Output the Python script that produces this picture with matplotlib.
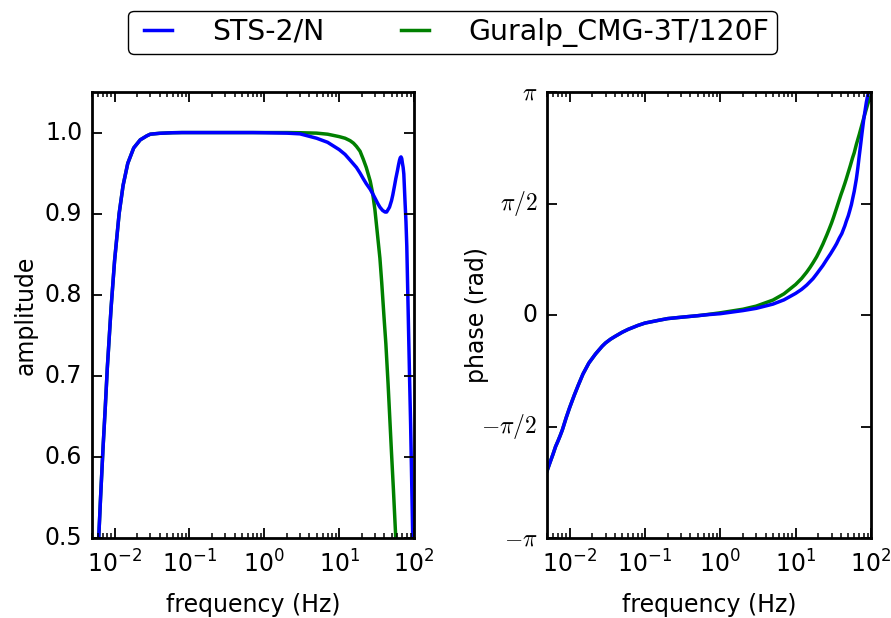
import numpy as np
import matplotlib
matplotlib.use('Agg')
import matplotlib.pyplot as plt

# values
freq_sts2 = [0.005, 0.0055, 0.006, 0.0065, 0.007, 0.0075, 0.008, 0.009, 0.010,
             0.0115, 0.013, 0.015, 0.018, 0.022, 0.027, 0.03, 0.035, 0.04,
             0.05, 0.06, 0.07, 0.08, 0.1, 0.15, 0.2, 0.3, 0.5, 0.7,
             1.0, 2.0, 3.0, 5.0, 7.0, 10, 12, 14, 17, 19, 21, 23, 26, 29, 33,
             35, 38, 41, 43, 45, 47, 50, 52, 55, 57, 60, 62, 64, 65.5, 67,
             68.5, 70, 71.5, 73, 76, 78, 80, 83, 87, 90, 93, 96, 100]
amp_sts2 = [0.34, 0.41, 0.48, 0.55, 0.61, 0.66, 0.71, 0.785, 0.842,
            0.900, 0.935, 0.962, 0.981, 0.991, 0.996, 0.998, 0.9986, 0.9991,
            0.9995, 0.9998, 0.9999, 1.0, 1.0, 1.0, 1.0, 1.0, 1.0, 1.0,
            0.9998, 0.9993, 0.9984, 0.993, 0.988, 0.979, 0.973, 0.966, 0.957,
            0.950, 0.943, 0.937, 0.930, 0.922, 0.912, 0.908, 0.904, 0.902,
            0.902, 0.905, 0.908, 0.916, 0.923, 0.935, 0.943, 0.953, 0.960,
            0.966, 0.969, 0.970, 0.968, 0.962, 0.957, 0.949, 0.912, 0.89, 0.86,
            0.79, 0.70, 0.64, 0.57, 0.50, 0.42]
phase_sts2 = [-0.70, -0.66, -0.625, -0.59, -0.565, -0.54, -0.515, -0.46, -0.415,
              -0.36, -0.315, -0.265, -0.215, -0.175, -0.14, -0.125, -0.108,
              -0.096, -0.077, -0.064, -0.055, -0.047, -0.036, -0.024, -0.016,
              -0.010, -0.003, 0.002,
              0.006, 0.020, 0.030, 0.049, 0.068, 0.097, 0.115, 0.134, 0.163,
              0.184, 0.204, 0.222, 0.250, 0.274, 0.305, 0.32, 0.345, 0.365,
              0.383, 0.400, 0.42, 0.445, 0.465, 0.495, 0.52, 0.555, 0.583,
              0.61, 0.635, 0.66, 0.688, 0.715, 0.74, 0.765, 0.815, 0.845,
              0.875, 0.91, 0.955, 0.98, 1.0, 1.03, 1.05]  # in units of pi

freq_cmg = [0.005, 0.0055, 0.006, 0.0065, 0.007, 0.0075, 0.008, 0.009, 0.010,
            0.0115, 0.013, 0.015, 0.018, 0.022, 0.027, 0.03, 0.035, 0.04,
            0.05, 0.06, 0.07, 0.08, 0.1, 0.15, 0.2, 0.3, 0.5, 0.7,
            1.0, 2.0, 3.0, 5.0, 7.0, 10, 12, 14, 15.5, 17, 19, 21, 23, 26, 28,
            30, 32, 35, 37, 40, 42, 45, 47, 50, 53, 57, 60, 64, 70, 74, 78, 82,
            87, 91, 95, 100]
amp_cmg = [0.34, 0.41, 0.48, 0.55, 0.61, 0.66, 0.71, 0.785, 0.842,
           0.900, 0.935, 0.962, 0.981, 0.991, 0.996, 0.998, 0.9986, 0.9991,
           0.9995, 0.9998, 0.9999, 1.0, 1.0, 1.0, 1.0, 1.0, 1.0, 1.0,
           1.0, 1.0, 0.9998, 0.9993, 0.998, 0.995, 0.993, 0.990, 0.987, 0.983,
           0.977, 0.967, 0.957, 0.940, 0.925, 0.905, 0.880, 0.845, 0.815,
           0.768, 0.74, 0.69, 0.655, 0.605, 0.56, 0.50, 0.455, 0.40, 0.33,
           0.29, 0.26, 0.23, 0.20, 0.18, 0.16, 0.14]
phase_cmg = [-0.70, -0.66, -0.625, -0.59, -0.565, -0.54, -0.515, -0.46, -0.415,
             -0.36, -0.315, -0.265, -0.215, -0.175, -0.14, -0.125, -0.108,
             -0.096, -0.077, -0.064, -0.055, -0.047, -0.036, -0.024, -0.016,
             -0.010, -0.003, 0.003,
             0.010, 0.026, 0.040, 0.067, 0.095, 0.137, 0.164, 0.192, 0.213,
             0.234, 0.261, 0.29, 0.318, 0.36, 0.387, 0.413, 0.44, 0.48, 0.505,
             0.54, 0.56, 0.59, 0.61, 0.64, 0.668, 0.705, 0.728, 0.765, 0.81,
             0.84, 0.868, 0.895, 0.925, 0.948, 0.965, 0.98]  # in units of pi

plt.style.use('classic')
plt.rcParams['font.size'] = 17
plt.rcParams['xtick.major.size'] = 7.2
plt.rcParams['xtick.minor.size'] = 3.6
plt.rcParams['ytick.major.size'] = 7.2
plt.rcParams['ytick.minor.size'] = 3.6
plt.rcParams['xtick.major.width'] = 1.3
plt.rcParams['xtick.minor.width'] = 1.1
plt.rcParams['ytick.major.width'] = 1.3
plt.rcParams['ytick.minor.width'] = 1.1
plt.rcParams['xtick.major.pad'] = 9
plt.rcParams['ytick.major.pad'] = 7
plt.rcParams['axes.linewidth'] = 2.0

fig = plt.figure(figsize=(8.91, 6.18), dpi=100, facecolor='white')
ax1 = fig.add_axes([0.1033, 0.1294, 0.3614, 0.7217])
ax2 = fig.add_axes([0.6139, 0.1294, 0.3636, 0.7217])

ax1.semilogx(freq_cmg, amp_cmg, color='g', lw=2.5)
ax1.semilogx(freq_sts2, amp_sts2, color='b', lw=2.5)
ax1.set_xlim(0.005, 100)
ax1.set_ylim(0.5, 1.05)
ax1.set_xlabel('frequency (Hz)', labelpad=11)
ax1.set_ylabel('amplitude')

lg, = ax2.semilogx(freq_cmg, np.array(phase_cmg) * np.pi, color='g', lw=2.5,
                   label='Guralp_CMG-3T/120F')
lb, = ax2.semilogx(freq_sts2, np.array(phase_sts2) * np.pi, color='b', lw=2.5,
                   label='STS-2/N')
ax2.set_xlim(0.005, 100)
ax2.set_ylim(-np.pi, np.pi)
ax2.set_yticks([-np.pi, -np.pi / 2, 0, np.pi / 2, np.pi])
ax2.set_yticklabels([r'$-\pi$', r'$-\pi/2$', '0', r'$\pi/2$', r'$\pi$'])
ax2.set_xlabel('frequency (Hz)', labelpad=11)
ax2.set_ylabel('phase (rad)', labelpad=-6)

fig.legend(handles=[lb, lg], loc='center', bbox_to_anchor=(0.508, 0.948),
           ncol=2, fontsize=20.4, handlelength=1.6, handletextpad=1.1,
           columnspacing=2.4, borderpad=0.25, fancybox=True)

fig.savefig('out.png', dpi=100, facecolor='white')
